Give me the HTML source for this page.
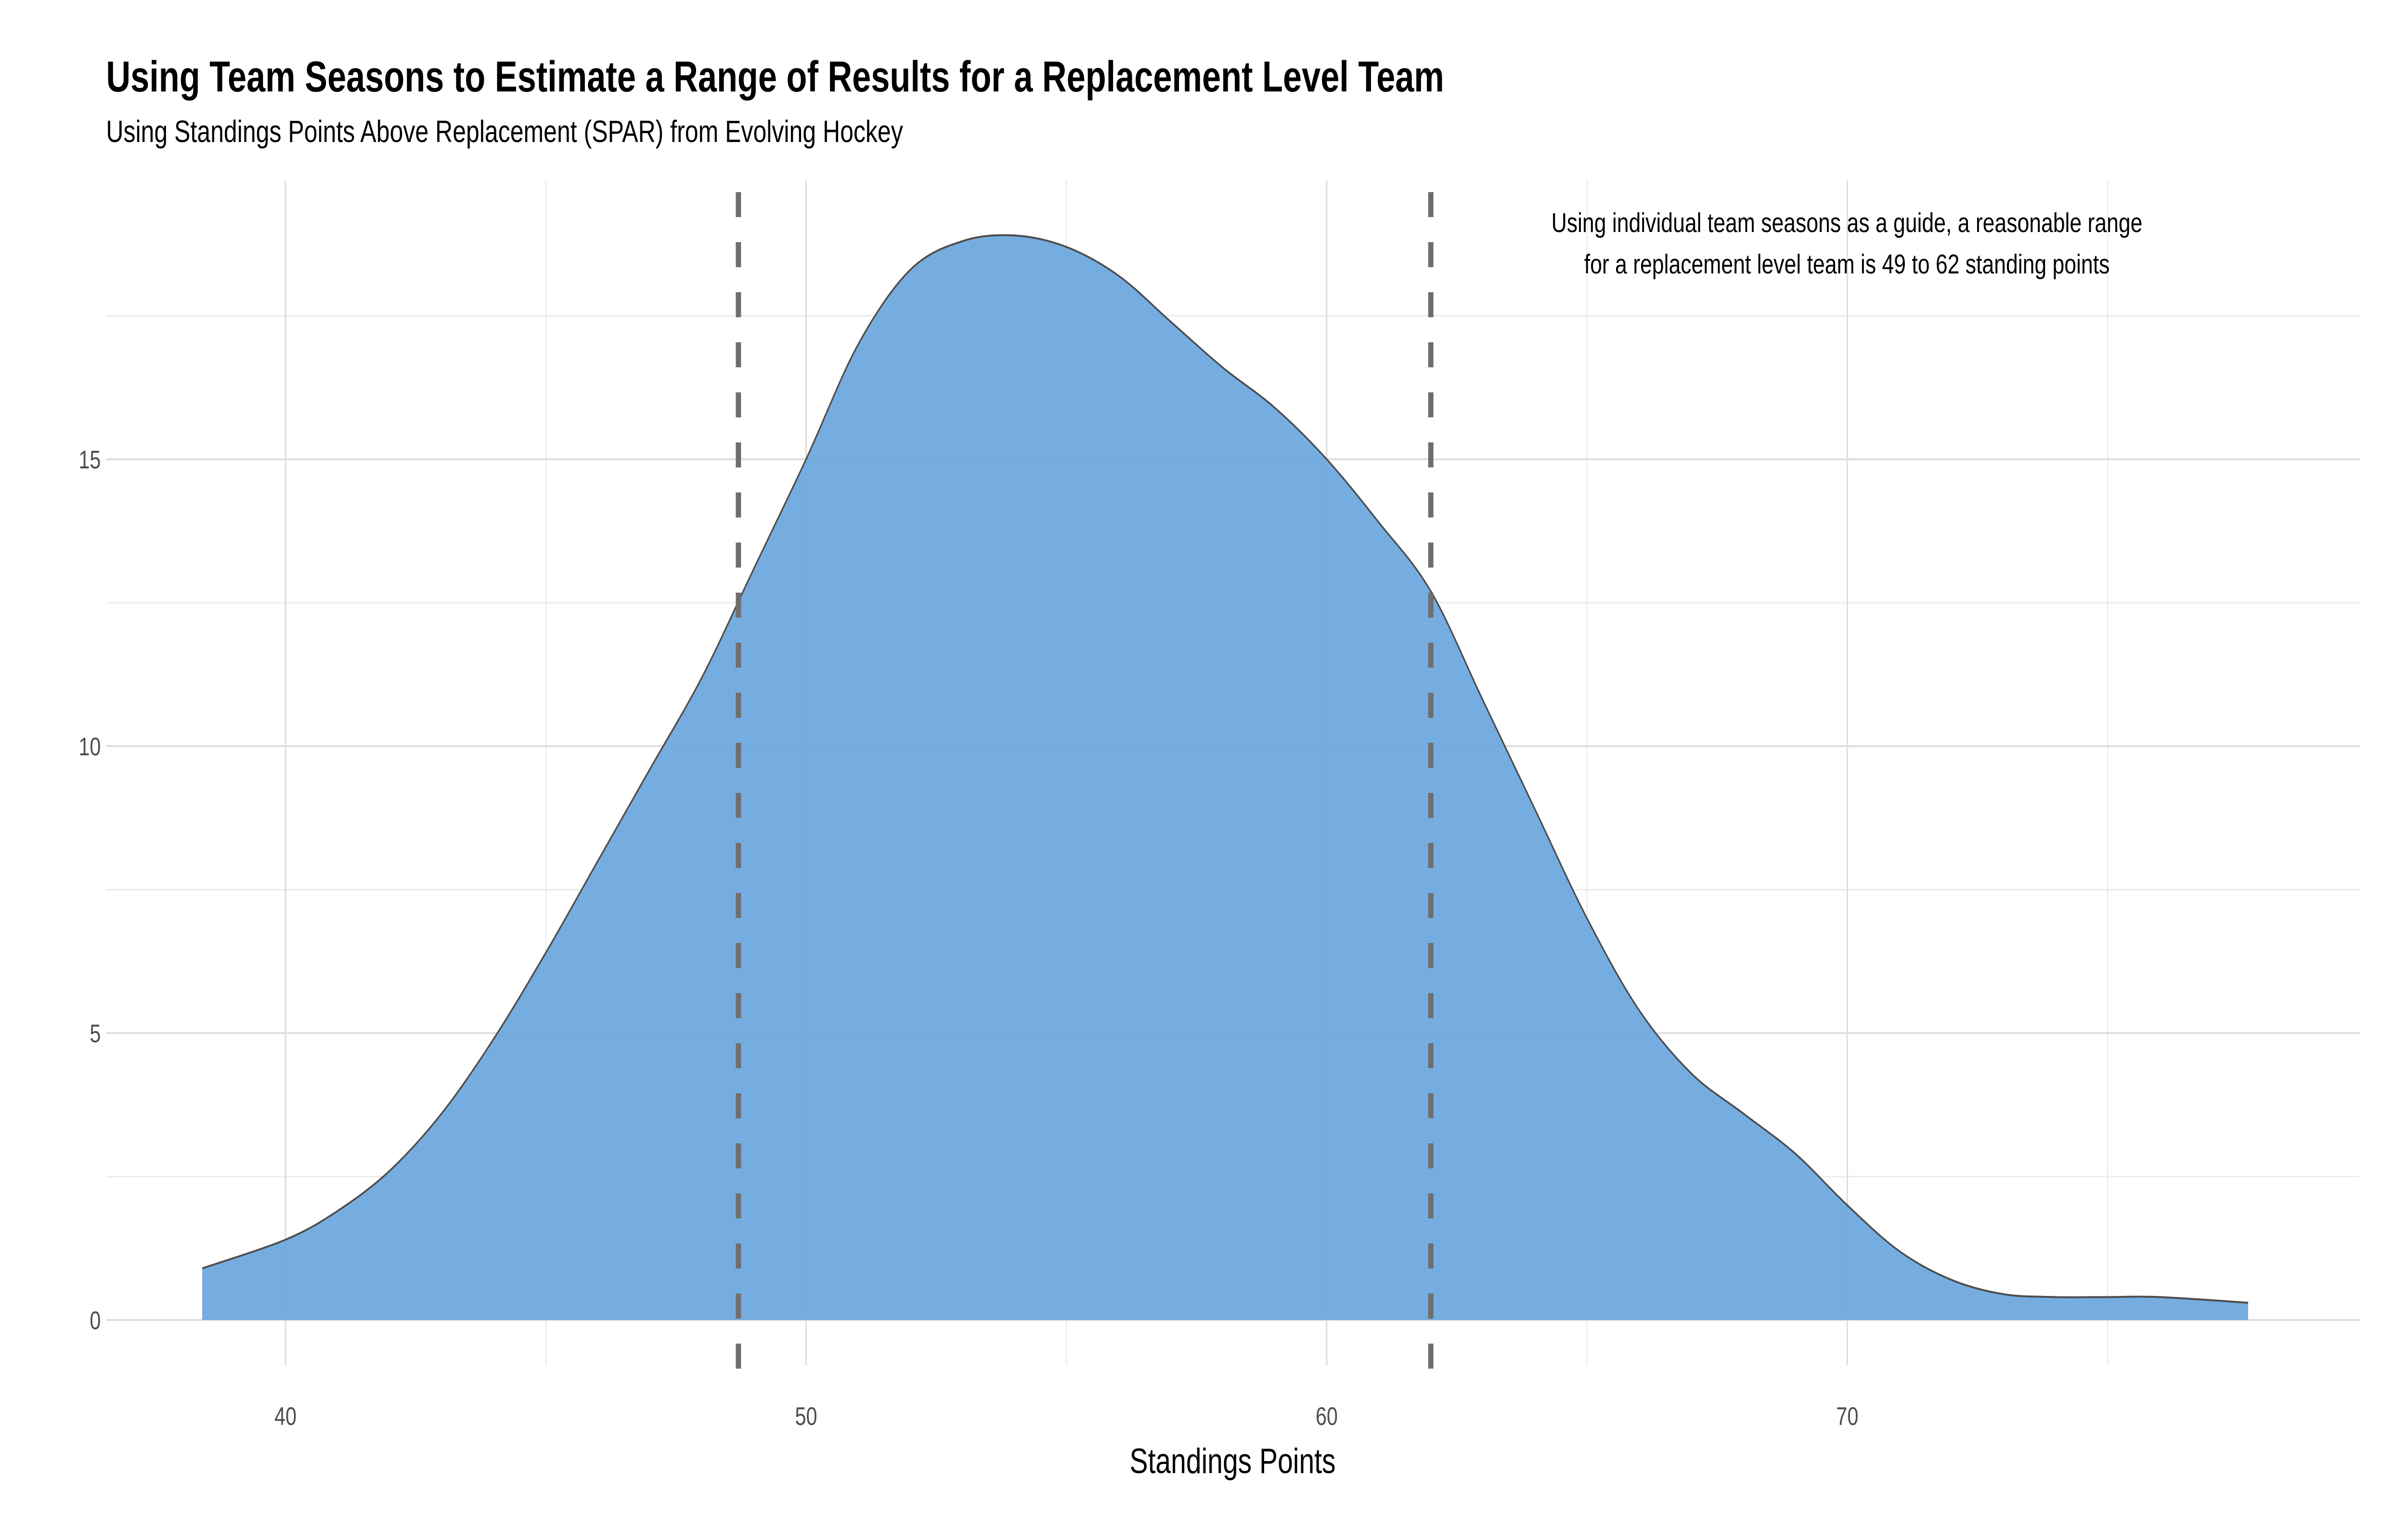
<!DOCTYPE html>
<html><head><meta charset="utf-8"><style>
html,body{margin:0;padding:0;background:#fff;width:100%;height:100%;overflow:hidden;}
svg{display:block;width:100vw;height:100vh;font-family:"Liberation Sans",sans-serif;}
</style></head><body>
<svg id="chart" viewBox="0 0 6399 3199" preserveAspectRatio="none" xmlns="http://www.w3.org/2000/svg">
<rect width="6399" height="3199" fill="#fff"/>
<text x="282" y="190" font-size="90" font-weight="bold" fill="#000">Using Team Seasons to Estimate a Range of Results for a Replacement Level Team</text>
<text x="282" y="295" font-size="64" fill="#000">Using Standings Points Above Replacement (SPAR) from Evolving Hockey</text>
<g id="grid"></g>
<g id="marks"></g>
<g id="axes"></g>
<text x="4910" y="482" font-size="57" text-anchor="middle" fill="#000">Using individual team seasons as a guide, a reasonable range</text>
<text x="4910" y="568" font-size="57" text-anchor="middle" fill="#000">for a replacement level team is 49 to 62 standing points</text>
<text x="3277" y="3060" font-size="73" text-anchor="middle" fill="#000">Standings Points</text>
</svg>
<script>
const xs = [38.4,40,41,42,43,44,45,46,47,48,49,50,51,52,53,54,55,56,57,58,59,60,61,62,63,64,65,66,67,68,69,70,71,72,73,74,75,76,77.7];
const dens = [0.9,1.4,1.9,2.6,3.6,4.9,6.4,8.0,9.6,11.2,13.1,15.0,17.0,18.3,18.8,18.9,18.7,18.2,17.4,16.6,15.9,15.0,13.9,12.7,10.8,8.9,7.0,5.4,4.3,3.6,2.9,2.0,1.2,0.7,0.45,0.4,0.4,0.4,0.3];
const xTicks = [40,50,60,70];
const xMinor = [45,55,65,75];
const yTicks = [0,5,10,15];
const yMinor = [2.5,7.5,12.5,17.5];
const rangeLines = [48.7,62.0];

const NS="http://www.w3.org/2000/svg";
const X = v => 759 + (v-40)*138.4;
const Y = v => 2742 - v*119.2;
const PL=282, PR=6273, PT=375, PB=2836;
function mk(tag, attrs, parent){const e=document.createElementNS(NS,tag);for(const k in attrs)e.setAttribute(k,attrs[k]);parent.appendChild(e);return e;}
const grid=document.getElementById('grid'), marks=document.getElementById('marks'), axes=document.getElementById('axes');
xMinor.forEach(v=>{const l=mk('line',{x1:X(v),x2:X(v),y1:PT,y2:PB,stroke:'#ebebeb','stroke-width':3},grid);

});
yMinor.forEach(v=>{const l=mk('line',{x1:PL,x2:PR,y1:Y(v),y2:Y(v),stroke:'#ebebeb','stroke-width':3},grid);

});
xTicks.forEach(v=>{const l=mk('line',{x1:X(v),x2:X(v),y1:PT,y2:PB,stroke:'#dedede','stroke-width':4},grid);


const t=mk('text',{x:X(v),y:2960,'font-size':53,'text-anchor':'middle',fill:'#4d4d4d'},axes);t.textContent=v;

});
yTicks.forEach(v=>{const l=mk('line',{x1:PL,x2:PR,y1:Y(v),y2:Y(v),stroke:'#dedede','stroke-width':4},grid);


const t=mk('text',{x:268,y:Y(v)+19,'font-size':53,'text-anchor':'end',fill:'#4d4d4d'},axes);t.textContent=v;

});
const P=xs.map((x,i)=>[X(x),Y(dens[i])]);
let d=`M${P[0][0]},${P[0][1]}`;
for(let i=0;i<P.length-1;i++){const p0=P[Math.max(0,i-1)],p1=P[i],p2=P[i+1],p3=P[Math.min(P.length-1,i+2)];
d+=` C${p1[0]+(p2[0]-p0[0])/6},${p1[1]+(p2[1]-p0[1])/6} ${p2[0]-(p3[0]-p1[0])/6},${p2[1]-(p3[1]-p1[1])/6} ${p2[0]},${p2[1]}`;}
const area=mk('path',{d:d+` L${P[P.length-1][0]},${Y(0)} L${P[0][0]},${Y(0)} Z`,fill:'#6aa6dd','fill-opacity':0.92},marks);


const line=mk('path',{d:d,fill:'none',stroke:'#4d4d4d','stroke-width':4},marks);


rangeLines.forEach(v=>{const l=mk('line',{x1:X(v),x2:X(v),y1:399,y2:2850,stroke:'#6e6e6e','stroke-width':14,'stroke-dasharray':'52 52'},marks);

});
</script>
</body></html>
